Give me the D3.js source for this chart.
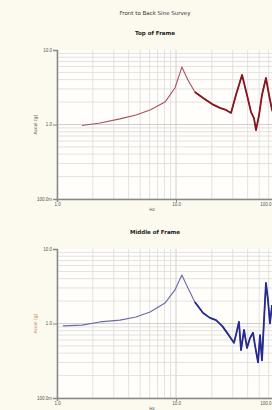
<!DOCTYPE html>
<html>
<head>
<meta charset="utf-8">
<script src="https://cdn.jsdelivr.net/npm/d3@7"></script>
<style>
  body { margin: 0; background: #fcf9ee; }
  svg { display: block; font-family: "DejaVu Sans", sans-serif; }
</style>
</head>
<body>
<script>
// данные (частота, Гц / амплитуда, g)
chartTitle = 'Front to Back Sine Survey';
panelTitles = ['Top of Frame', 'Middle of Frame'];
xTickValues = [1, 10, 100];
xTickLabels = ['1.0', '10.0', '100.0'];
yTickValues = [0.1, 1, 10];
yTickLabels = ['100.0m', '1.0', '10.0'];
yLabel = 'Accel (g)';
xLabel = 'Hz';

freqTop = [1.62, 2.30, 3.38, 4.61, 6.05, 8.08, 9.8, 11.2, 12.6, 14.4, 16.9, 20.1, 23.4, 26.3, 29.0,
           31.9, 35.9, 39.5, 42.7, 45.2, 47.0, 49.8, 52.8, 57.0, 60.5, 64.1, 68.0];
ampTop  = [0.97, 1.05, 1.19, 1.34, 1.57, 2.0, 3.09, 5.9, 3.96, 2.73, 2.27, 1.88, 1.67, 1.57, 1.43,
           2.49, 4.62, 2.49, 1.47, 1.22, 0.84, 1.32, 2.49, 4.21, 2.49, 1.57, 1.3];

freqMid = [1.12, 1.62, 2.30, 3.38, 4.61, 6.05, 8.08, 9.8, 11.2, 12.6, 14.4, 16.9, 19.3, 21.7, 24.4,
           27.4, 30.7, 31.9, 33.8, 35.2, 37.3, 39.5, 41.9, 44.4, 46.1, 48.9, 50.8, 52.8, 54.9, 57.0,
           59.3, 61.6, 64.1];
ampMid  = [0.93, 0.95, 1.05, 1.11, 1.22, 1.43, 1.88, 2.82, 4.48, 3.0, 1.94, 1.38, 1.19, 1.11, 0.93,
           0.72, 0.55, 0.70, 1.05, 0.44, 0.82, 0.47, 0.64, 0.75, 0.51, 0.30, 0.70, 0.32, 1.11, 3.50,
           2.07, 1.0, 1.77];

width = 272;
height = 410;

svg = d3.select('body').append('svg')
   .attr('width', width)
   .attr('height', height);

// общий заголовок
svg.append('text')
   .attr('x', 155).attr('y', 15)
   .attr('text-anchor', 'middle')
   .attr('font-size', 5.5)
   .attr('fill', '#333')
   .text(chartTitle);

// функция отрисовки одной панели
function drawPanel(top, title, freq, amp, colorLight, colorDark, labelColor, id) {
   plotLeft = 57;
   plotRight = 295;
   plotTop = top;
   plotBottom = top + 149;

   x = d3.scaleLog().domain([1, 100]).range([plotLeft, plotRight]);
   y = d3.scaleLog().domain([0.1, 10]).range([plotBottom, plotTop]);

   g = svg.append('g');

   g.append('text')
      .attr('x', 155).attr('y', top - 15)
      .attr('text-anchor', 'middle')
      .attr('font-size', 5.5)
      .attr('font-weight', 'bold')
      .attr('fill', '#222')
      .text(title);

   // область графика
   g.append('rect')
      .attr('x', plotLeft).attr('y', plotTop)
      .attr('width', plotRight - plotLeft).attr('height', plotBottom - plotTop)
      .attr('fill', '#fffefb');

   // сетка: логарифмические деления
   xGrid = [];
   [1, 10].forEach((d) => { for (k = 1; k < 10; k++) xGrid.push(d * k); });
   yGrid = [];
   [0.1, 1].forEach((d) => { for (k = 1; k < 10; k++) yGrid.push(d * k); });

   g.append('g').selectAll('line')
      .data(xGrid)
   .enter().append('line')
      .attr('x1', (d) => x(d)).attr('x2', (d) => x(d))
      .attr('y1', plotTop).attr('y2', plotBottom)
      .attr('stroke', (d) => (d === 10 ? '#c4c4c4' : '#dadada'))
      .attr('stroke-width', 0.8);

   g.append('g').selectAll('line')
      .data(yGrid)
   .enter().append('line')
      .attr('x1', plotLeft).attr('x2', plotRight)
      .attr('y1', (d) => y(d)).attr('y2', (d) => y(d))
      .attr('stroke', (d) => (d === 1 ? '#c4c4c4' : '#dadada'))
      .attr('stroke-width', 0.8);

   // кривая
   clipId = 'clip-' + id;
   g.append('clipPath').attr('id', clipId)
      .append('rect')
      .attr('x', plotLeft).attr('y', plotTop)
      .attr('width', plotRight - plotLeft).attr('height', plotBottom - plotTop);

   points = freq.map((f, i) => [f, amp[i]]);
   line = d3.line()
      .x((d) => x(d[0]))
      .y((d) => y(d[1]));

   g.append('path')
      .datum(points)
      .attr('clip-path', 'url(#' + clipId + ')')
      .attr('d', line)
      .attr('fill', 'none')
      .attr('stroke', colorLight)
      .attr('stroke-width', 1.1)
      .attr('stroke-linejoin', 'round');

   // шумный участок справа - толще и темнее
   g.append('path')
      .datum(points.filter((d) => d[0] >= 14))
      .attr('clip-path', 'url(#' + clipId + ')')
      .attr('d', line)
      .attr('fill', 'none')
      .attr('stroke', colorDark)
      .attr('stroke-width', 1.8)
      .attr('stroke-linejoin', 'round');

   // оси
   yAxis = d3.axisLeft(y)
      .tickValues(yTickValues)
      .tickFormat((d, i) => yTickLabels[i])
      .tickSize(4)
      .tickPadding(1);
   ga = g.append('g').attr('transform', 'translate(' + plotLeft + ',0)').call(yAxis);
   ga.select('.domain').attr('stroke', '#888').attr('stroke-width', 1.5);
   ga.selectAll('.tick line').attr('stroke', '#888');
   ga.selectAll('.tick text').attr('font-size', 4.5).attr('fill', '#555');

   xAxis = d3.axisBottom(x)
      .tickValues(xTickValues)
      .tickFormat((d, i) => xTickLabels[i])
      .tickSize(3)
      .tickPadding(1);
   gx = g.append('g').attr('transform', 'translate(0,' + plotBottom + ')').call(xAxis);
   gx.select('.domain').attr('stroke', '#888').attr('stroke-width', 1.5);
   gx.selectAll('.tick line').attr('stroke', '#888');
   gx.selectAll('.tick text').attr('font-size', 4.5).attr('fill', '#555');
   // подпись 100.0 за краем окна - прижимаем к правому краю
   gx.selectAll('.tick text').filter((d) => d === 100)
      .attr('text-anchor', 'end')
      .attr('x', width - 1 - x(100));

   // подписи осей
   g.append('text')
      .attr('transform', 'translate(37,' + (plotTop + plotBottom) / 2 + ') rotate(-90)')
      .attr('text-anchor', 'middle')
      .attr('font-size', 4.5)
      .attr('fill', labelColor)
      .text(yLabel);

   g.append('text')
      .attr('x', 152).attr('y', plotBottom + 12)
      .attr('text-anchor', 'middle')
      .attr('font-size', 4.5)
      .attr('fill', '#555')
      .text(xLabel);
}

drawPanel(50, panelTitles[0], freqTop, ampTop, '#a8525a', '#86161f', '#555', 'top');
drawPanel(249, panelTitles[1], freqMid, ampMid, '#6a6aa8', '#262a92', '#d07a6a', 'mid');
</script>
</body>
</html>
